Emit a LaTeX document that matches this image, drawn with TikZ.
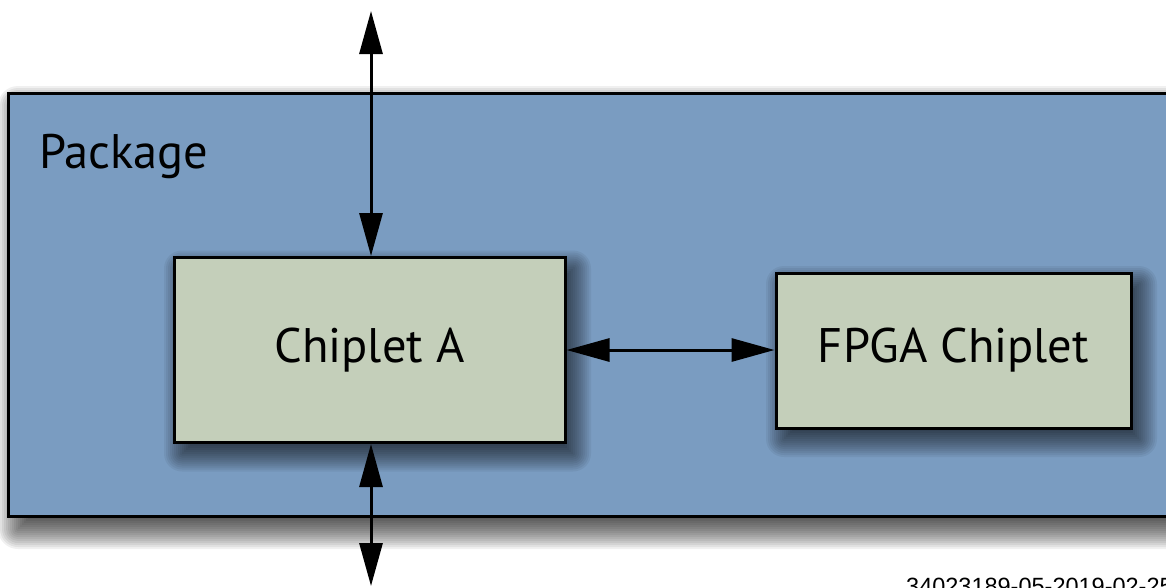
\documentclass[tikz,border=0pt]{standalone}
\usepackage{fontspec}
\setmainfont{PT Sans}
\newfontfamily\capfont{Liberation Sans}
\usetikzlibrary{arrows.meta}

\definecolor{pkgblue}{RGB}{122,156,193}
\definecolor{chipgreen}{RGB}{196,207,186}

% soft drop shadow: box corners, offset, half-width of the fade, layer opacity
\newcommand\dropshadow[8]{%
  \foreach \k in {0,...,#7}{%
    \pgfmathsetmacro\e{2*\k-#7}%
    \fill[black,opacity=#8,rounded corners={max(\e,0)*1pt}]
      ({#1+#5-\e},{#2+#6-\e}) rectangle ({#3+#5+\e},{#4+#6+\e});}}

\tikzset{
  pkgbox/.style={draw=black, line width=3pt, fill=pkgblue, inner sep=0pt},
  chipbox/.style={draw=black, line width=3pt, fill=chipgreen, inner sep=0pt,
    font=\fontsize{48.5}{58}\selectfont},
  biarrow/.style={line width=3pt,
    {Triangle[length=43pt,width=23pt]}-{Triangle[length=43pt,width=23pt]}},
}

\begin{document}
\begin{tikzpicture}[x=1pt,y=-1pt]
  \clip (0,0) rectangle (1166,587);
  \fill[white] (0,0) rectangle (1166,587);

  % package outline running off to the right
  \dropshadow{8}{93}{1190}{516}{10}{13}{20}{0.06}
  \node[pkgbox, minimum width=1182pt, minimum height=423pt] (pkg) at (599,304.5) {};
  \node[anchor=base west, font=\fontsize{48.5}{58}\selectfont, inner sep=0pt] (pkglabel) at (39,168) {Package};

  % chiplets
  \dropshadow{174}{257.5}{565}{442.5}{8}{11}{18}{0.055}
  \dropshadow{776}{273}{1131}{428}{8}{11}{18}{0.055}
  \node[chipbox, minimum width=391pt, minimum height=185pt] (chipA) at (369.5,350) {Chiplet A};
  \node[chipbox, minimum width=355pt, minimum height=155pt] (fpga) at (953.5,350.5) {FPGA Chiplet};

  % connections
  \coordinate (topend) at (371,11);
  \coordinate (botend) at (371,586);
  \draw[biarrow] (topend) -- (topend |- chipA.north);
  \draw[biarrow] (botend |- chipA.south) -- (botend);
  \draw[biarrow] (chipA.east) -- (fpga.west |- chipA.east);

  % figure number
  \node[anchor=base west, inner sep=0pt, font=\capfont\fontsize{23.5}{28}\selectfont] (figid) at (906,594) {34023189-05-2019-02-25};
\end{tikzpicture}
\end{document}
